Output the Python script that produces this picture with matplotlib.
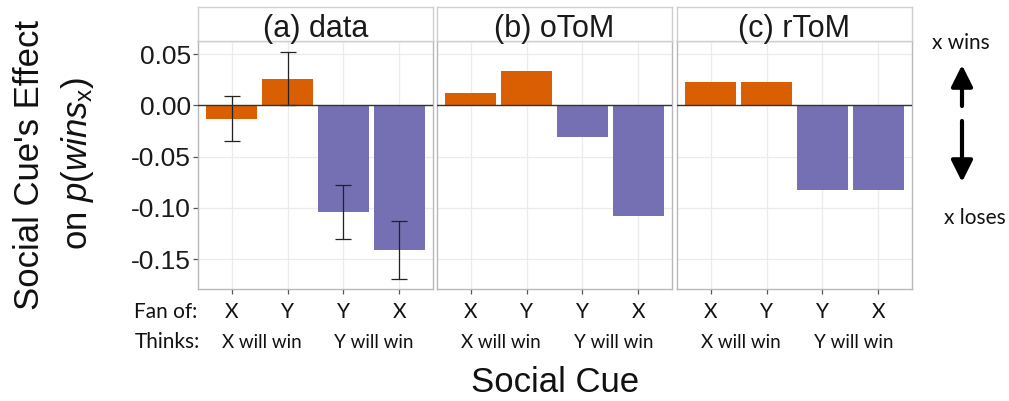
import matplotlib
matplotlib.use("Agg")
import matplotlib.pyplot as plt
import matplotlib.transforms as mtransforms
from matplotlib.patches import FancyArrowPatch, ArrowStyle

# 数据
fan_of = ["X", "Y", "Y", "X"]
thinks = ["X will win", "Y will win"]
panel_titles = ["(a) data", "(b) oToM", "(c) rToM"]
data_mean = [-0.013, 0.026, -0.104, -0.141]
data_lo = [-0.035, 0.0005, -0.130, -0.169]
data_hi = [0.009, 0.052, -0.078, -0.113]
otom_mean = [0.012, 0.033, -0.031, -0.108]
rtom_mean = [0.023, 0.023, -0.083, -0.083]
yticks = [0.05, 0.00, -0.05, -0.10, -0.15]

orange = "#D95F02"
purple = "#7570B3"
bar_colors = [orange, orange, purple, purple]

plt.rcParams["font.family"] = ["Liberation Sans", "DejaVu Sans"]
plt.rcParams["mathtext.fontset"] = "custom"
plt.rcParams["mathtext.it"] = "Liberation Sans:italic"
plt.rcParams["mathtext.rm"] = "Liberation Sans"
label_font = ["Lato", "DejaVu Sans"]

W, H = 1009, 401
fig = plt.figure(figsize=(W / 100, H / 100), dpi=100)


def box(x0, y0, x1, y1):
    return [x0 / W, 1 - y1 / H, (x1 - x0) / W, (y1 - y0) / H]


panel_x = [(198, 433), (437, 672), (677, 912)]
series = [data_mean, otom_mean, rtom_mean]
xs = [1, 2, 3, 4]

for i, ((x0, x1), means) in enumerate(zip(panel_x, series)):
    ax = fig.add_axes(box(x0, 41, x1, 289))
    ax.set_axisbelow(True)
    ax.grid(True, color="#EBEBEB", linewidth=0.9)
    ax.bar(xs, means, width=0.9, color=bar_colors, zorder=2)
    if i == 0:
        lo_err = [m - l for m, l in zip(means, data_lo)]
        hi_err = [h - m for m, h in zip(means, data_hi)]
        ax.errorbar(xs, means, yerr=[lo_err, hi_err], fmt="none",
                    ecolor="#222222", elinewidth=0.9, capsize=5.5,
                    capthick=0.9, zorder=3)
    ax.axhline(0, color="#333333", linewidth=1.0, zorder=4)
    ax.set_xlim(0.4, 4.6)
    ax.set_ylim(-0.179, 0.0627)
    ax.set_xticks(xs)
    ax.set_xticklabels([])
    ax.set_yticks(yticks)
    for s in ax.spines.values():
        s.set_color("#B8B8B8")
        s.set_linewidth(1.0)
    ax.tick_params(axis="both", length=3.5, width=0.9, color="#555555")
    if i == 0:
        ax.set_yticklabels([f"{v:.2f}" for v in yticks], fontsize=19,
                           color="#1a1a1a")
        ax.tick_params(axis="y", pad=1.5)
    else:
        ax.tick_params(axis="y", left=False, labelleft=False)

    # strip
    st = fig.add_axes(box(x0, 7, x1, 41))
    st.set_xticks([])
    st.set_yticks([])
    for s in st.spines.values():
        s.set_color("#CFCFCF")
        s.set_linewidth(1.0)
    st.text(0.5, 0.12, panel_titles[i], ha="center", va="baseline",
            fontsize=22, color="#1a1a1a", transform=st.transAxes)

    # x-axis category labels
    tr = mtransforms.blended_transform_factory(ax.transData, fig.transFigure)
    for x, f in zip(xs, fan_of):
        ax.text(x, 1 - 312 / H, f, ha="center", va="center", fontsize=15,
                family=label_font, transform=tr, color="#111111")
    for x, t in zip([1.55, 3.55], thinks):
        ax.text(x, 1 - 342 / H, t, ha="center", va="center", fontsize=13.5,
                family=label_font, transform=tr, color="#111111")

fig.text(197 / W, 1 - 312 / H, "Fan of:", ha="right", va="center",
         fontsize=15, family=label_font, color="#111111")
fig.text(200 / W, 1 - 342 / H, "Thinks:", ha="right", va="center",
         fontsize=15, family=label_font, color="#111111")

# axis titles
fig.text(30 / W, 1 - 165 / H, "Social Cue's Effect", rotation=90,
         ha="center", va="center", fontsize=25, color="#111111")
fig.text(77 / W, 1 - 163 / H, r"on $p(wins_{\mathrm{x}})$", rotation=90,
         ha="center", va="center", fontsize=25, color="#111111")
fig.text(555 / W, 1 - 382 / H, "Social Cue", ha="center", va="center",
         fontsize=25, color="#111111")

# right-side annotation
fig.text(961 / W, 1 - 43 / H, "x wins", ha="center", va="center",
         fontsize=15, family=label_font, color="#111111")
fig.text(975 / W, 1 - 218 / H, "x loses", ha="center", va="center",
         fontsize=15, family=label_font, color="#111111")
style = ArrowStyle("-|>", head_length=13, head_width=6.5)
for (ya, yb) in [(106, 65), (121, 182)]:
    arr = FancyArrowPatch((962 / W, 1 - ya / H), (962 / W, 1 - yb / H),
                          transform=fig.transFigure, arrowstyle=style,
                          mutation_scale=1, linewidth=3, color="black",
                          shrinkA=0, shrinkB=0)
    fig.add_artist(arr)

fig.savefig("out.png", dpi=100)
